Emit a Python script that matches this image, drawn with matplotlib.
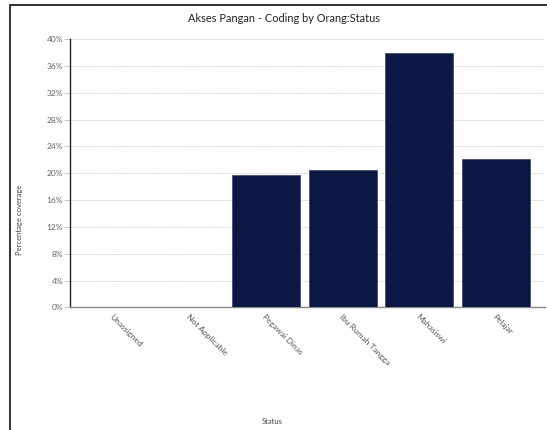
import matplotlib
matplotlib.use("Agg")
import matplotlib.pyplot as plt
from matplotlib.patches import Rectangle
from matplotlib.ticker import PercentFormatter

# chart data
categories = ["Unassigned", "Not Applicable", "Pegawai Dinas",
              "Ibu Rumah Tangga", "Mahasiswi", "Pelajar"]
coverage = [0.0, 0.0, 19.8, 20.5, 37.9, 22.1]
y_ticks = [0, 4, 8, 12, 16, 20, 24, 28, 32, 36, 40]

title = "Akses Pangan - Coding by Orang:Status"
bar_color = "#0c1744"

plt.rcParams["font.family"] = ["Lato", "DejaVu Sans"]

W, H = 547, 430
fig = plt.figure(figsize=(W / 100, H / 100), dpi=100)

# outer frame (clipped at the right and bottom edge)
fig.patches.append(Rectangle((10 / W, -0.1), 1.2, 1.1 - 5 / H,
                             transform=fig.transFigure, fill=False,
                             edgecolor="#222222", linewidth=1.3))

# big heading, mostly cut off at the top
fig.text(-7 / W, 1 + 3.5 / H, title, fontsize=17, color="black",
         ha="left", va="baseline")

ax = fig.add_axes([70 / W, (H - 307.3) / H, 475 / W, 268 / H])
x = list(range(len(categories)))
ax.bar(x, coverage, width=0.89, color=bar_color, edgecolor="#3a4368",
       linewidth=0.5, zorder=3)

ax.set_xlim(-0.565, 5.644)
ax.set_ylim(0, 40)
ax.set_yticks(y_ticks)
ax.yaxis.set_major_formatter(PercentFormatter(decimals=0))
ax.set_xticks(x)
ax.set_xticklabels(categories, rotation=-45, ha="left", va="top",
                   rotation_mode="anchor", fontsize=6, color="#555555")
ax.tick_params(axis="x", length=0, pad=4)
ax.tick_params(axis="y", length=4, color="#cccccc", labelsize=6,
               labelcolor="#666666", pad=1)

ax.grid(axis="y", linestyle=(0, (1, 1)), color="#cccccc", linewidth=0.7,
        zorder=0)
for side in ["top", "right"]:
    ax.spines[side].set_visible(False)
ax.spines["left"].set_color("#222222")
ax.spines["left"].set_linewidth(1.0)
ax.spines["bottom"].set_color("#888888")
ax.spines["bottom"].set_linewidth(1.0)

fig.text(284.5 / W, 1 - 19 / H, title, fontsize=7.9, color="#222222",
         ha="center", va="center")

fig.text(20 / W, 1 - 220 / H, "Percentage coverage", rotation=90,
         fontsize=5.5, color="#444444", ha="center", va="center")
fig.text(272 / W, 1 - 421 / H, "Status", fontsize=5.5, color="#444444",
         ha="center", va="center")

fig.savefig("out.png", dpi=100)
